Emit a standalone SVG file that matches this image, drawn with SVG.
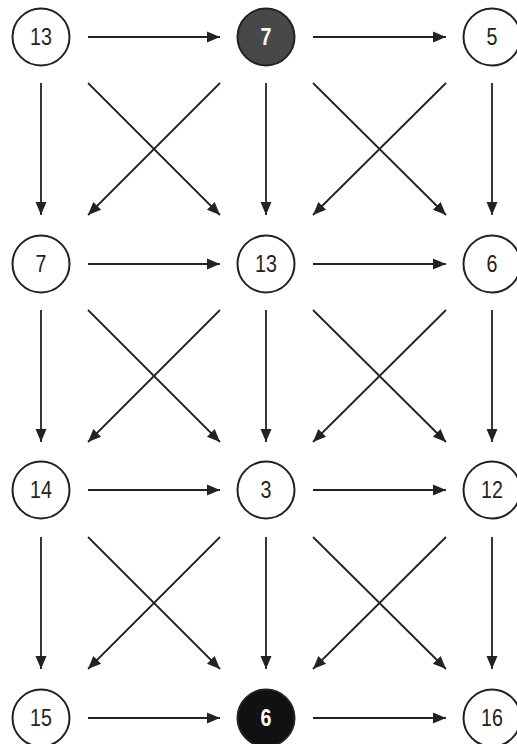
<svg xmlns="http://www.w3.org/2000/svg" width="517" height="744" viewBox="0 0 517 744">
<style>
.n circle{fill:#fff;stroke:#222;stroke-width:2}
.n text{font-family:"Liberation Sans",Arial,sans-serif;font-size:24px;fill:#222;text-anchor:middle;dominant-baseline:central}
.n.dark circle{fill:#484848}
.n.black circle{fill:#111}
.n.dark text,.n.black text{fill:#fff;font-weight:bold}
.e line{stroke:#222;stroke-width:1.8;marker-end:url(#ah)}
</style>
<defs>
<marker id="ah" markerUnits="userSpaceOnUse" markerWidth="13" markerHeight="13" refX="13" refY="6.5" orient="auto">
<path d="M0,1 L13,6.5 L0,12 z" fill="#222"/>
</marker>
</defs>
<rect width="517" height="744" fill="#fff"/>
<g id="connectors" class="e">
<line x1="88" y1="37" x2="220" y2="37"/>
<line x1="313" y1="37" x2="446" y2="37"/>
<line x1="88" y1="264" x2="220" y2="264"/>
<line x1="313" y1="264" x2="446" y2="264"/>
<line x1="88" y1="490" x2="220" y2="490"/>
<line x1="313" y1="490" x2="446" y2="490"/>
<line x1="88" y1="718" x2="220" y2="718"/>
<line x1="313" y1="718" x2="446" y2="718"/>
<line x1="41" y1="83" x2="41" y2="215"/>
<line x1="266" y1="83" x2="266" y2="215"/>
<line x1="492" y1="83" x2="492" y2="215"/>
<line x1="41" y1="310" x2="41" y2="442"/>
<line x1="266" y1="310" x2="266" y2="442"/>
<line x1="492" y1="310" x2="492" y2="442"/>
<line x1="41" y1="537" x2="41" y2="669"/>
<line x1="266" y1="537" x2="266" y2="669"/>
<line x1="492" y1="537" x2="492" y2="669"/>
<line x1="88" y1="83" x2="220" y2="215"/>
<line x1="220" y1="83" x2="88" y2="215"/>
<line x1="313" y1="83" x2="446" y2="215"/>
<line x1="446" y1="83" x2="313" y2="215"/>
<line x1="88" y1="310" x2="220" y2="442"/>
<line x1="220" y1="310" x2="88" y2="442"/>
<line x1="313" y1="310" x2="446" y2="442"/>
<line x1="446" y1="310" x2="313" y2="442"/>
<line x1="88" y1="537" x2="220" y2="669"/>
<line x1="220" y1="537" x2="88" y2="669"/>
<line x1="313" y1="537" x2="446" y2="669"/>
<line x1="446" y1="537" x2="313" y2="669"/>
</g>
<g id="n00" class="n"><circle cx="41" cy="37" r="28.5"/><text transform="translate(41 37) scale(0.82 1)">13</text></g>
<g id="n01" class="n dark"><circle cx="266" cy="37" r="28.5"/><text transform="translate(266 37) scale(0.82 1)">7</text></g>
<g id="n02" class="n"><circle cx="492" cy="37" r="28.5"/><text transform="translate(492 37) scale(0.82 1)">5</text></g>
<g id="n10" class="n"><circle cx="41" cy="264" r="28.5"/><text transform="translate(41 264) scale(0.82 1)">7</text></g>
<g id="n11" class="n"><circle cx="266" cy="264" r="28.5"/><text transform="translate(266 264) scale(0.82 1)">13</text></g>
<g id="n12" class="n"><circle cx="492" cy="264" r="28.5"/><text transform="translate(492 264) scale(0.82 1)">6</text></g>
<g id="n20" class="n"><circle cx="41" cy="490" r="28.5"/><text transform="translate(41 490) scale(0.82 1)">14</text></g>
<g id="n21" class="n"><circle cx="266" cy="490" r="28.5"/><text transform="translate(266 490) scale(0.82 1)">3</text></g>
<g id="n22" class="n"><circle cx="492" cy="490" r="28.5"/><text transform="translate(492 490) scale(0.82 1)">12</text></g>
<g id="n30" class="n"><circle cx="41" cy="718" r="28.5"/><text transform="translate(41 718) scale(0.82 1)">15</text></g>
<g id="n31" class="n black"><circle cx="266" cy="718" r="28.5"/><text transform="translate(266 718) scale(0.82 1)">6</text></g>
<g id="n32" class="n"><circle cx="492" cy="718" r="28.5"/><text transform="translate(492 718) scale(0.82 1)">16</text></g>
</svg>
